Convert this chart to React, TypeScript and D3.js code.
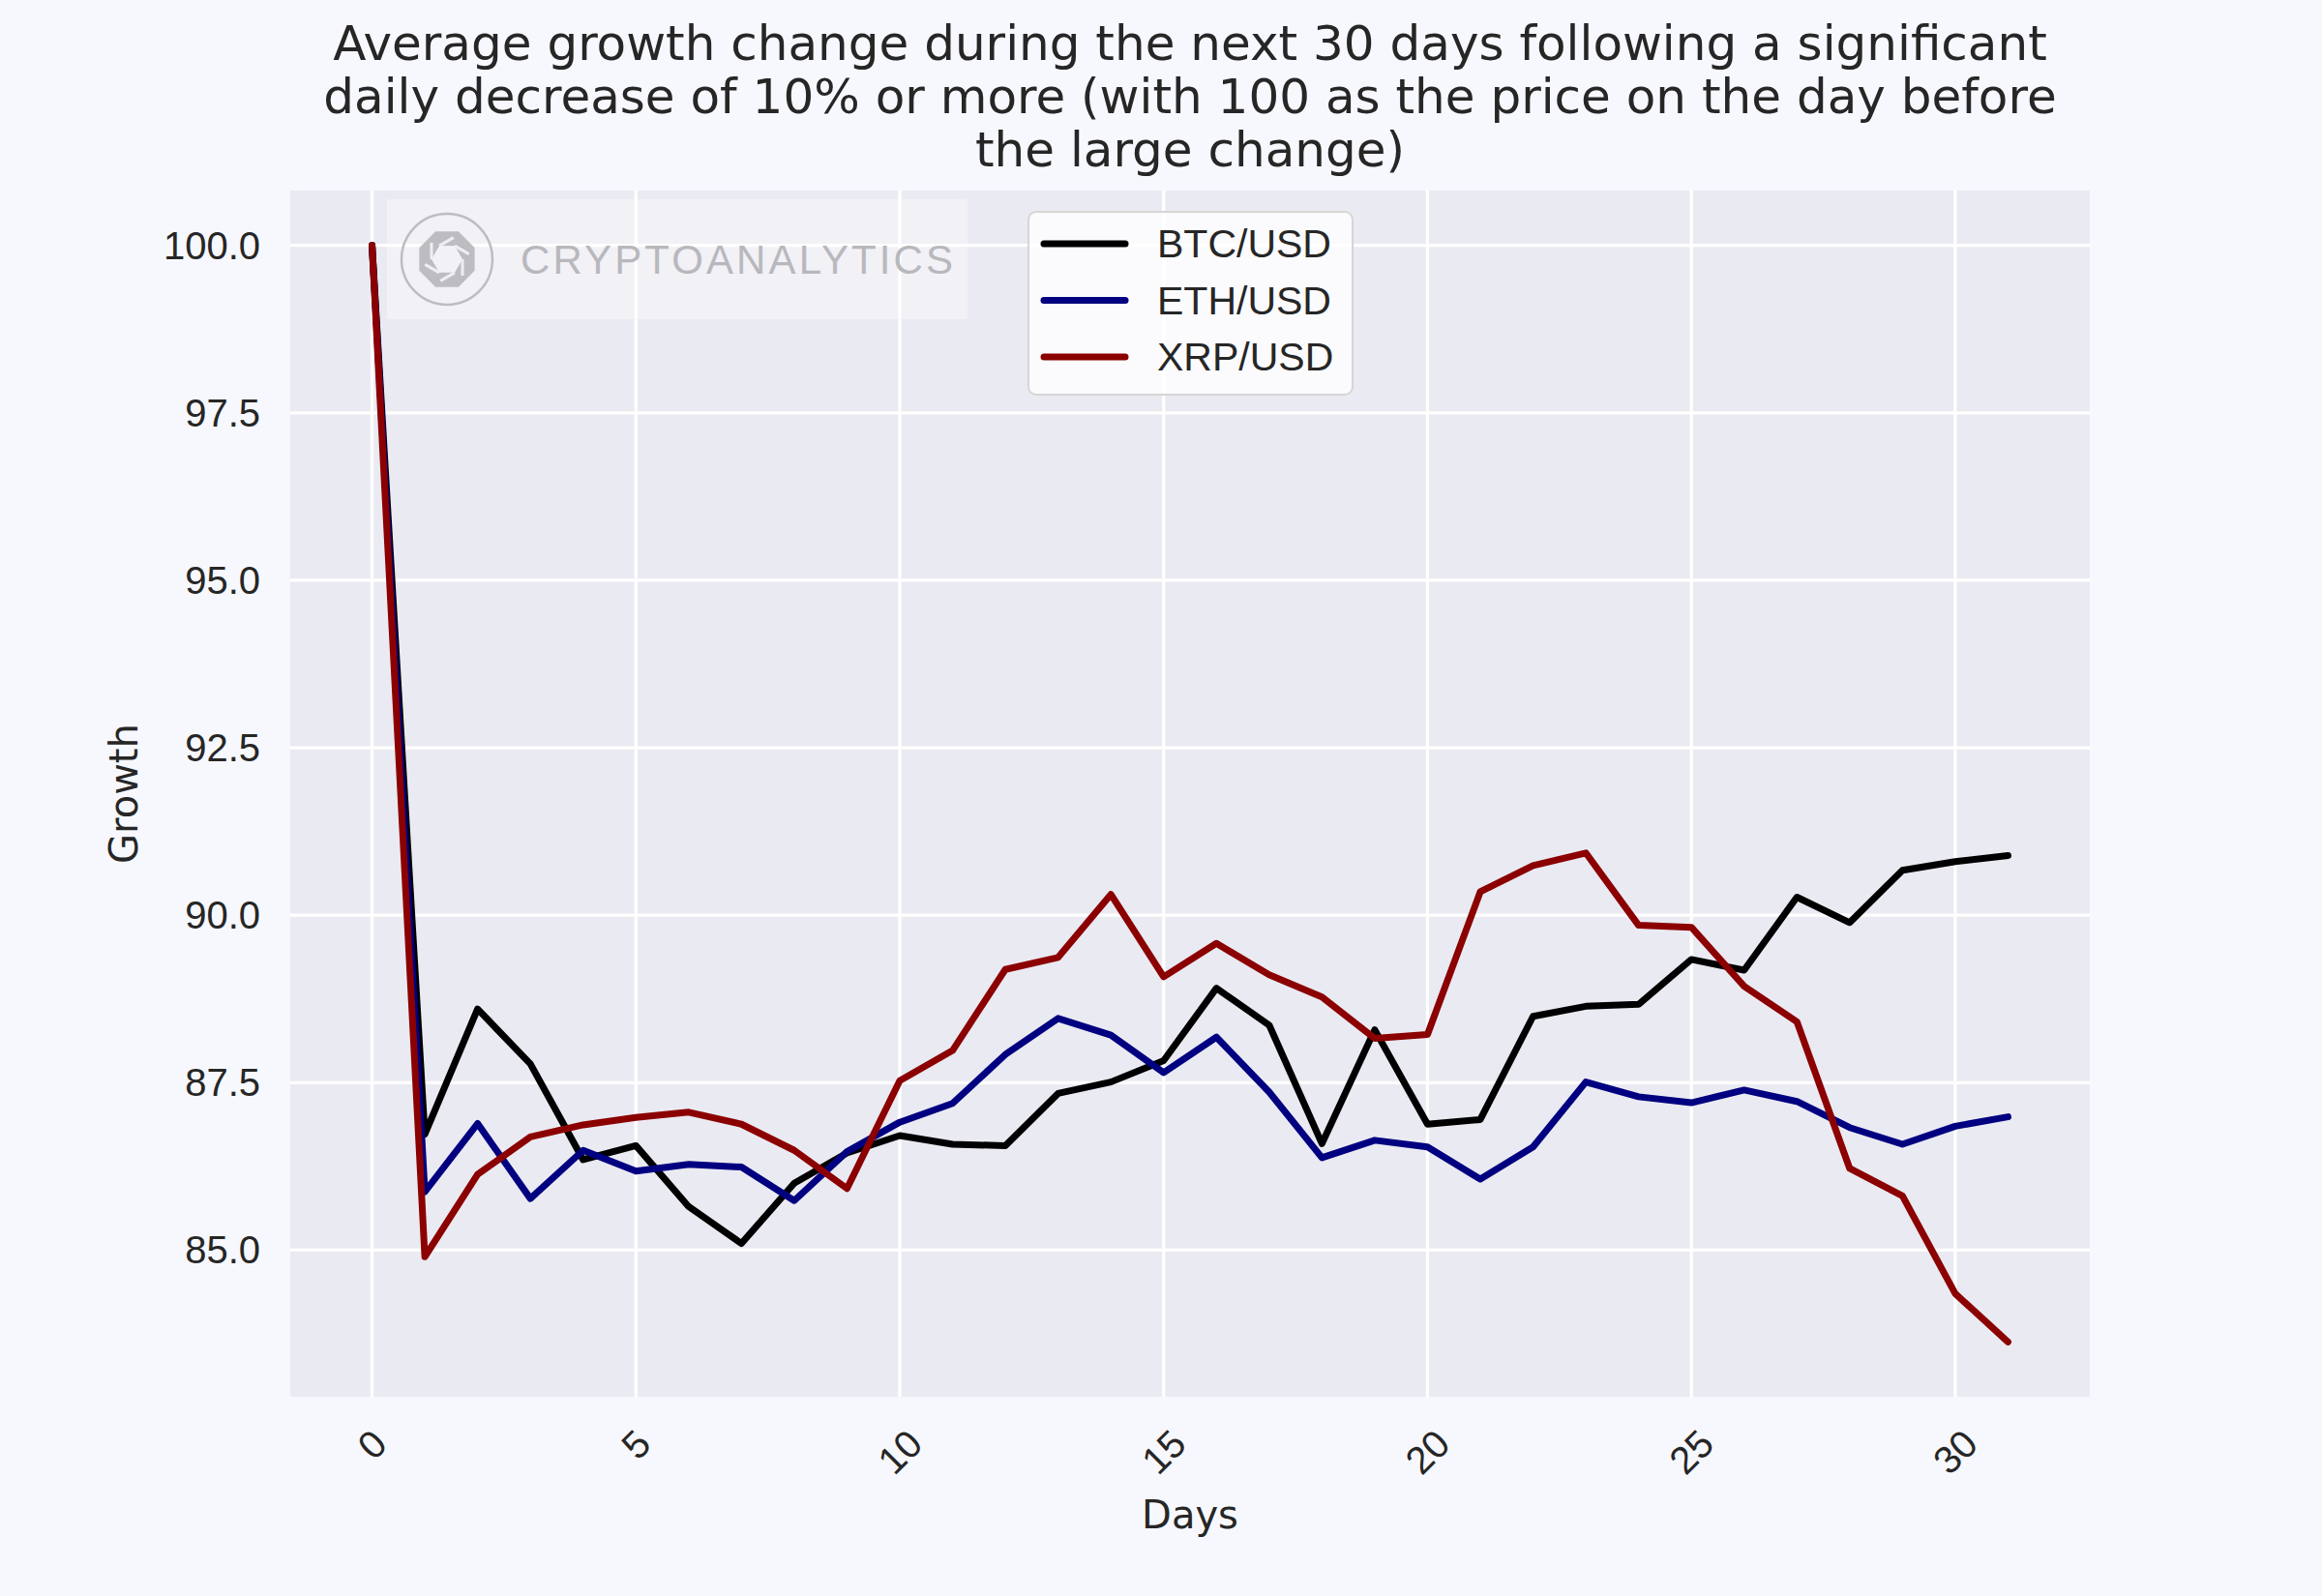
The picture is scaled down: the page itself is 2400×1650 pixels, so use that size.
import React from 'react';
import * as d3 from 'd3';

const days = d3.range(0, 32);

const btcValues = [
  100, 86.73, 88.6, 87.78, 86.35, 86.56, 85.65, 85.1, 86.0, 86.45, 86.71, 86.58, 86.56, 87.34, 87.51, 87.83,
  88.91, 88.36, 86.59, 88.29, 86.88, 86.95, 88.49, 88.64, 88.67, 89.34, 89.18, 90.27, 89.89, 90.67, 90.8, 90.89,
];
const ethValues = [
  100, 85.87, 86.89, 85.77, 86.49, 86.18, 86.28, 86.24, 85.74, 86.47, 86.91, 87.19, 87.92, 88.46, 88.21, 87.65,
  88.18, 87.36, 86.38, 86.64, 86.54, 86.06, 86.54, 87.51, 87.29, 87.2, 87.39, 87.22, 86.83, 86.58, 86.85, 86.99,
];
const xrpValues = [
  100, 84.9, 86.13, 86.69, 86.87, 86.98, 87.06, 86.88, 86.49, 85.92, 87.53, 87.98, 89.19, 89.37, 90.31, 89.08,
  89.58, 89.11, 88.78, 88.16, 88.22, 90.35, 90.74, 90.93, 89.85, 89.82, 88.94, 88.41, 86.22, 85.81, 84.35, 83.63,
];

const seriesNames = ['BTC/USD', 'ETH/USD', 'XRP/USD'];
const seriesColors = ['#000000', '#000080', '#8b0000'];
const xTicks = [0, 5, 10, 15, 20, 25, 30];
const yTicks = [85, 87.5, 90, 92.5, 95, 97.5, 100];
const titleLines = [
  'Average growth change during the next 30 days following a significant',
  'daily decrease of 10% or more (with 100 as the price on the day before',
  'the large change)',
];

const W = 2400;
const H = 1650;
const plot = { left: 300, right: 2160, top: 197, bottom: 1444 };
const textColor = '#262626';

const App: React.FC = () => {
  const allSeries = [btcValues, ethValues, xrpValues];

  // matplotlib style 5% margins
  const xPad = (d3.max(days)! - d3.min(days)!) * 0.05;
  const x = d3.scaleLinear()
    .domain([d3.min(days)! - xPad, d3.max(days)! + xPad])
    .range([plot.left, plot.right]);

  const [yMin, yMax] = d3.extent(allSeries.flat()) as [number, number];
  const yPad = (yMax - yMin) * 0.05;
  const y = d3.scaleLinear()
    .domain([yMin - yPad, yMax + yPad])
    .range([plot.bottom, plot.top]);

  const line = d3.line<number>()
    .x((_, i) => x(days[i]))
    .y(d => y(d));

  const fmtY = d3.format('.1f');

  // logo: octagon ring in the watermark
  const cx = 462, cy = 268;
  const octagon = d3.range(8).map(i => {
    const a = (Math.PI / 8) + i * Math.PI / 4;
    return [cx + 31 * Math.cos(a), cy + 31 * Math.sin(a)];
  });
  const hexagon = d3.range(6).map(i => {
    const a = i * Math.PI / 3;
    return [cx + 16 * Math.cos(a), cy + 16 * Math.sin(a)];
  });
  const ringPath = `M${octagon.map(p => p.join(',')).join('L')}Z M${hexagon.map(p => p.join(',')).join('L')}Z`;

  return (
    <div style={{ position: 'absolute', left: 0, top: 0 }}>
      <svg width={W} height={H} viewBox={`0 0 ${W} ${H}`} style={{ display: 'block' }}>
        <rect x={0} y={0} width={W} height={H} fill="#f7f8fd" />

        {/* title */}
        {titleLines.map((t, i) => (
          <text
            key={i}
            x={1230}
            y={62 + i * 55}
            textAnchor="middle"
            fontFamily="DejaVu Sans"
            fontSize={50}
            fill={textColor}
          >
            {t}
          </text>
        ))}

        {/* axes background */}
        <rect
          x={plot.left}
          y={plot.top}
          width={plot.right - plot.left}
          height={plot.bottom - plot.top}
          fill="#eaeaf2"
        />

        {/* grid */}
        {xTicks.map(t => (
          <line key={`gx${t}`} x1={x(t)} x2={x(t)} y1={plot.top} y2={plot.bottom} stroke="#ffffff" strokeWidth={3.33} />
        ))}
        {yTicks.map(t => (
          <line key={`gy${t}`} x1={plot.left} x2={plot.right} y1={y(t)} y2={y(t)} stroke="#ffffff" strokeWidth={3.33} />
        ))}

        {/* watermark */}
        <rect x={400} y={206} width={600} height={124} fill="#ffffff" fillOpacity={0.35} />
        <circle cx={cx} cy={cy} r={47} fill="none" stroke="#bdbdc1" strokeWidth={2.5} />
        <path d={ringPath} fill="#bdbdc1" fillRule="evenodd" />
        {hexagon.map((p, i) => {
          const a = i * Math.PI / 3 + Math.PI / 2;
          return (
            <line
              key={`cut${i}`}
              x1={p[0]}
              y1={p[1]}
              x2={p[0] + 17 * Math.cos(a)}
              y2={p[1] + 17 * Math.sin(a)}
              stroke="#eeeef3"
              strokeWidth={3}
            />
          );
        })}
        <text
          x={538}
          y={283}
          fontFamily="Liberation Sans, Arial, sans-serif"
          fontSize={42}
          fill="#b8b8bc"
          textLength={447}
          lengthAdjust="spacing"
        >
          CRYPTOANALYTICS
        </text>

        {/* series */}
        {allSeries.map((s, i) => (
          <path
            key={seriesNames[i]}
            d={line(s) || ''}
            fill="none"
            stroke={seriesColors[i]}
            strokeWidth={7}
            strokeLinecap="round"
            strokeLinejoin="round"
          />
        ))}

        {/* y tick labels */}
        {yTicks.map(t => (
          <text
            key={`yl${t}`}
            x={269}
            y={y(t)}
            textAnchor="end"
            dominantBaseline="central"
            fontFamily="Liberation Sans, Arial, sans-serif"
            fontSize={40}
            fill={textColor}
          >
            {fmtY(t)}
          </text>
        ))}

        {/* x tick labels, rotated 45 */}
        {xTicks.map(t => {
          const label = String(t);
          const w = label.length * 0.556 * 40;
          const cyLabel = 1475 + (w + 29) / (2 * Math.SQRT2);
          return (
            <text
              key={`xl${t}`}
              transform={`translate(${x(t)},${cyLabel}) rotate(-45)`}
              textAnchor="middle"
              dominantBaseline="central"
              fontFamily="Liberation Sans, Arial, sans-serif"
              fontSize={40}
              fill={textColor}
            >
              {label}
            </text>
          );
        })}

        {/* axis labels */}
        <text
          x={(plot.left + plot.right) / 2}
          y={1566}
          textAnchor="middle"
          dominantBaseline="central"
          fontFamily="DejaVu Sans"
          fontSize={40}
          fill={textColor}
        >
          Days
        </text>
        <text
          transform={`translate(128,${(plot.top + plot.bottom) / 2}) rotate(-90)`}
          textAnchor="middle"
          dominantBaseline="central"
          fontFamily="DejaVu Sans"
          fontSize={40}
          fill={textColor}
        >
          Growth
        </text>

        {/* legend */}
        <rect x={1063} y={219} width={335} height={189} rx={8} fill="#ffffff" fillOpacity={0.8} stroke="#d6d6d6" strokeWidth={2} />
        {seriesNames.map((name, i) => {
          const ly = 252 + i * 58.5;
          return (
            <g key={`lg${name}`}>
              <line x1={1079} x2={1163} y1={ly} y2={ly} stroke={seriesColors[i]} strokeWidth={7} strokeLinecap="round" />
              <text
                x={1196}
                y={ly}
                dominantBaseline="central"
                fontFamily="Liberation Sans, Arial, sans-serif"
                fontSize={41}
                fill={textColor}
              >
                {name}
              </text>
            </g>
          );
        })}
      </svg>
    </div>
  );
};

export default App;
